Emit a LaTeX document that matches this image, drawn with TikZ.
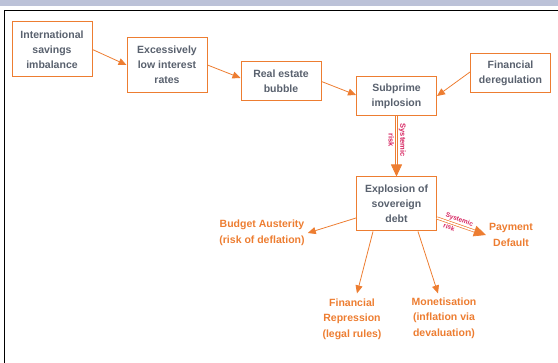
\documentclass[tikz,border=0pt]{standalone}
\usepackage{fontspec}
\setmainfont{Liberation Sans}
\usetikzlibrary{arrows.meta}
\definecolor{boxorange}{RGB}{237,125,49}
\definecolor{boxtext}{RGB}{89,97,110}
\definecolor{riskred}{RGB}{214,36,96}
\definecolor{bandgray}{RGB}{188,194,216}
\begin{document}
\begin{tikzpicture}[x=1pt,y=-1pt]
\tikzstyle{box}=[rectangle,align=center,draw=boxorange,line width=1pt,fill=white,text=boxtext,font=\bfseries\fontsize{10.5}{15}\selectfont,minimum width=80pt,inner sep=2pt]
\tikzstyle{outcome}=[align=center,text=boxorange,font=\bfseries\fontsize{10.5}{15.5}\selectfont,inner sep=1pt]
\tikzstyle{link}=[draw=boxorange,line width=0.8pt,-{Triangle[length=8pt,width=7pt]}]
\tikzstyle{risklink}=[draw=boxorange,double=white,double distance=1.6pt,line width=0.7pt,-{Triangle[length=12pt,width=11pt]}]
\tikzstyle{risk}=[text=riskred,font=\bfseries\fontsize{6.5}{7}\selectfont,inner sep=2pt]
\useasboundingbox (0,0) rectangle (558,363);
\fill[bandgray] (0,0) rectangle (558,6);
\draw[line width=1.5pt] (558,10.5) -- (4.5,10.5) -- (4.5,363);
\node[box,minimum height=55pt] at(52, 49.5) (intl) {International\\savings\\imbalance};
\node[box,minimum height=55pt] at(167, 65) (rates) {Excessively\\low interest\\rates};
\node[box,minimum height=39pt] at(281, 81.5) (bubble) {Real estate\\bubble};
\node[box,minimum height=39pt] at(396.5, 96) (subprime) {Subprime\\implosion};
\node[box,minimum height=39pt] at(510.5, 73.5) (dereg) {Financial\\deregulation};
\node[box,minimum height=54pt] at(396.5, 204) (debt) {Explosion of\\sovereign\\debt};
\node[outcome] at(511, 235) (default) {Payment\\Default};
\node[outcome] at(262, 233) (austerity) {Budget Austerity\\(risk of deflation)};
\node[outcome] at(352, 319) (repression) {Financial\\Repression\\(legal rules)};
\node[outcome] at(444, 318) (monetisation) {Monetisation\\(inflation via\\devaluation)};
\draw[link] (intl.east) -- (rates.west);
\draw[link] (rates.east) -- ([yshift=3.5]bubble.west);
\draw[link] (bubble.east) -- ([yshift=1]subprime.west);
\draw[link] ([yshift=1.5]dereg.west) -- (subprime.east);
\draw[risklink] (subprime.south) -- (debt.north)
  node[risk,font=\bfseries\fontsize{7.5}{8}\selectfont,pos=0.4,sloped,above] {Systemic}
  node[risk,font=\bfseries\fontsize{7.5}{8}\selectfont,pos=0.4,sloped,below] {risk};
\draw[risklink] ([yshift=-14]debt.east) -- ([xshift=-2]default.west)
  node[risk,pos=0.42,sloped,above] {Systemic}
  node[risk,pos=0.28,sloped,below] {risk};
\draw[link] ([yshift=-14]debt.west) -- ([xshift=2]austerity.east);
\draw[link] ([xshift=-23.5]debt.south) -- ([xshift=5,yshift=4]repression.north);
\draw[link] ([xshift=21.5]debt.south) -- ([xshift=-6,yshift=3]monetisation.north);
\end{tikzpicture}
\end{document}
